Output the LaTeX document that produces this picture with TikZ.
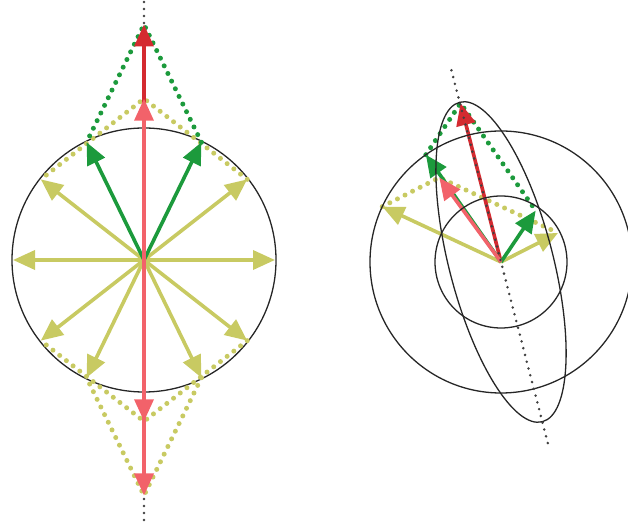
\documentclass[tikz,border=0pt]{standalone}
\usepackage{tikz}
\usetikzlibrary{arrows.meta,calc}
\definecolor{vyellow}{HTML}{C8CA62}
\definecolor{vgreen}{HTML}{1C9A3C}
\definecolor{vpink}{HTML}{F2626A}
\definecolor{vred}{HTML}{D42A30}

\begin{document}
\begin{tikzpicture}[x=1pt,y=1pt,>={Triangle[length=22pt,width=19pt]},
    vec/.style={->,line width=3.6pt},
    ring/.style={draw=black!85,line width=1.3pt},
    axis/.style={black!75,line width=2.8pt,line cap=round,dash pattern=on 0pt off 7pt},
    sumline/.style={line width=5pt,line cap=round,dash pattern=on 0pt off 8.5pt}]
  \useasboundingbox (0,0) rectangle (628,529);
  % left: circle with the fan of vectors
  \begin{scope}[shift={(144,269)}]
    \coordinate (l0) at (0,0);
    \foreach \a/\n in {0/ya,38/yb,142/yc,180/yd,-38/ye,-64/yf,-116/yg,-142/yh}
      \coordinate (\n) at (\a:131);
    \coordinate (ga) at (64:131);
    \coordinate (gb) at (116:131);
    \coordinate (ptop) at (90:161.3);
    \coordinate (rtop) at (90:235.5);
    \coordinate (pmid) at (-90:161.3);
    \coordinate (pbot) at (-90:235.5);
    \coordinate (atop) at (90:258);
    \coordinate (abot) at (-90:262);
    \draw[ring] (l0) circle (132);
    \draw[axis] (atop) -- (abot);
    \draw[sumline,vyellow] (yb) -- (ptop) -- (yc);
    \draw[sumline,vgreen] (ga) -- (rtop) -- (gb);
    \draw[sumline,vyellow] (ye) -- (pmid) -- (yh);
    \draw[sumline,vyellow] (yf) -- (pbot) -- (yg);
    \foreach \n in {ya,yb,yc,yd,ye,yf,yg,yh}
      \draw[vec,vyellow] (l0) -- (\n);
    \draw[vec,vred] (l0) -- (rtop);
    \draw[vec,vgreen] (l0) -- (ga);
    \draw[vec,vgreen] (l0) -- (gb);
    \draw[vec,vpink] (l0) -- (ptop);
    \draw[vec,vpink] (l0) -- (pbot);
    \draw[vec,vpink] (l0) -- (pmid);
  \end{scope}
  % right: two circles, the ellipse and the sums
  \begin{scope}[shift={(501,267)}]
    \coordinate (r0) at (0,0);
    \coordinate (yl) at (155:131);
    \coordinate (ys) at (27:64);
    \coordinate (gl) at (125:131);
    \coordinate (gs) at (56:62);
    \coordinate (pk) at ($(yl)+(ys)-(r0)$);
    \coordinate (rd) at ($(gl)+(gs)-(r0)$);
    \coordinate (btop) at (104.5:198);
    \coordinate (bbot) at (-75.5:190);
    \draw[sumline,vyellow] (yl) -- (pk) -- (ys);
    \draw[sumline,vgreen] (gl) -- (rd) -- (gs);
    \draw[vec,vyellow] (r0) -- (yl);
    \draw[vec,vyellow] (r0) -- (ys);
    \draw[vec,vred] (r0) -- (rd);
    \draw[vec,vgreen] (r0) -- (gl);
    \draw[vec,vgreen] (r0) -- (gs);
    \draw[vec,vpink] (r0) -- (pk);
    \draw[ring] (r0) circle (131) (r0) circle (66);
    \draw[ring,rotate=104.5] (r0) ellipse [x radius=165,y radius=52];
    \draw[axis] (btop) -- (bbot);
  \end{scope}
\end{tikzpicture}
\end{document}
